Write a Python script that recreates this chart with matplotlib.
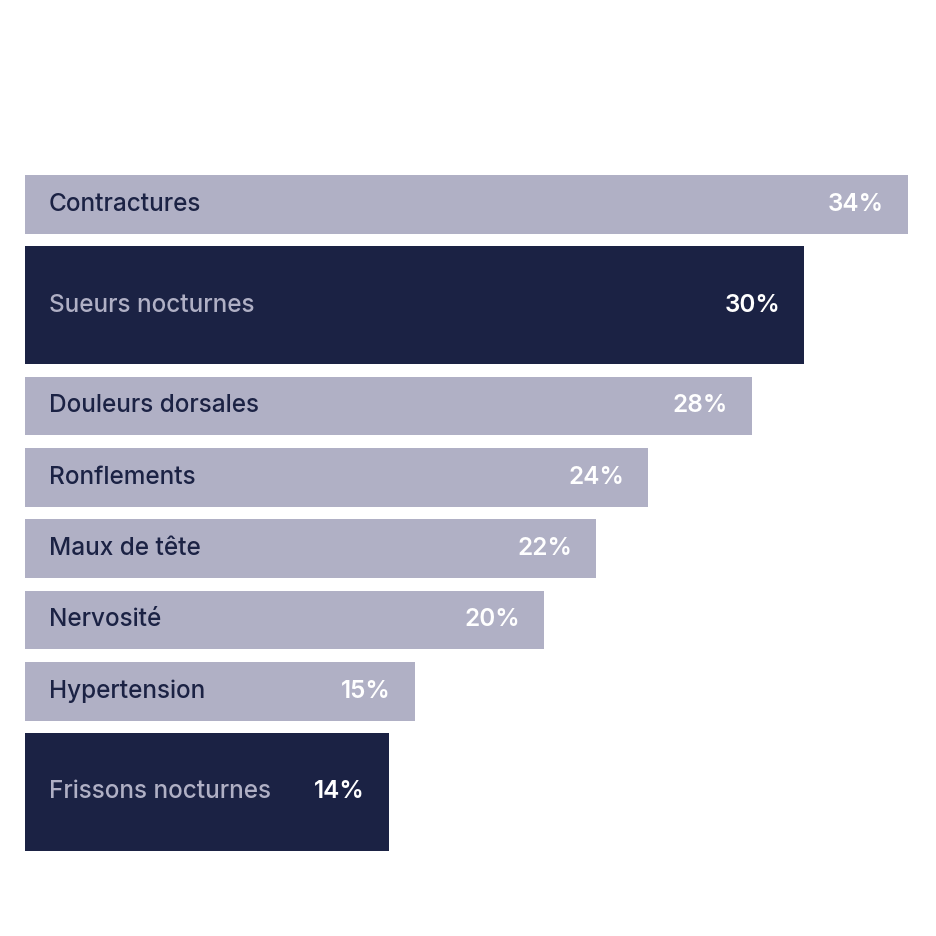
import matplotlib
matplotlib.use("Agg")
import matplotlib.pyplot as plt

categories = ["Contractures", "Sueurs nocturnes", "Douleurs dorsales", "Ronflements",
              "Maux de tête", "Nervosité", "Hypertension", "Frissons nocturnes"]
values = [34, 30, 28, 24, 22, 20, 15, 14]
highlight = [False, True, False, False, False, False, False, True]

LIGHT = "#B0B0C5"
DARK = "#1B2244"

W = H = 936
fig = plt.figure(figsize=(9.36, 9.36), dpi=100)
px_per_unit = 883 / 34.0
left_px = 25
ax = fig.add_axes([left_px / W, 0, (W - left_px) / W, 1])
ax.set_xlim(0, (W - left_px) / px_per_unit)
ax.set_ylim(H, 0)
ax.axis("off")

thin, thick, gap = 58.7, 117.7, 12.6
top = 175.0
font = "Inter"
pad = 24 / px_per_unit
for cat, val, hl in zip(categories, values, highlight):
    h = thick if hl else thin
    yc = top + h / 2
    ax.barh(yc, val, height=h, left=0, color=DARK if hl else LIGHT, linewidth=0)
    ax.text(pad, yc, cat, ha="left", va="center", fontsize=17.5, fontfamily=font,
            fontweight="medium", color=LIGHT if hl else DARK)
    ax.text(val - pad, yc, f"{val}%", ha="right", va="center", fontsize=17.5,
            fontfamily=font, fontweight="semibold", color="white")
    top += h + gap

fig.savefig("out.png", dpi=100, facecolor="white")
